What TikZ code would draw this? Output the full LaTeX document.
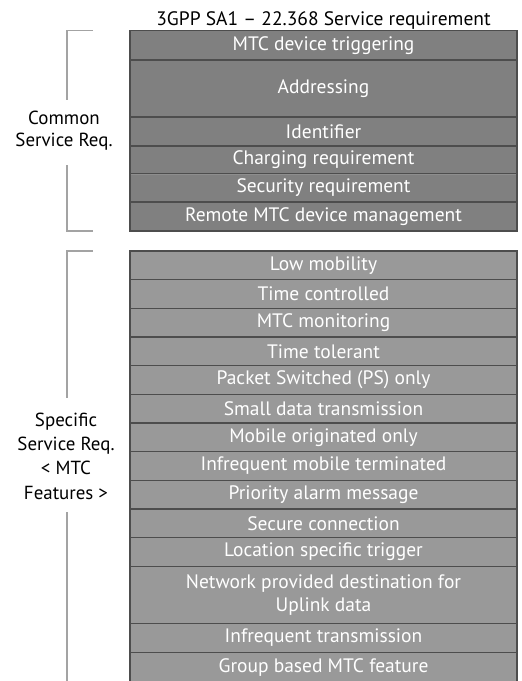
\documentclass[tikz,border=0pt]{standalone}
\usepackage{fontspec}
\setmainfont{PT Sans}
\usetikzlibrary{positioning,calc}
\definecolor{darkcell}{HTML}{808080}
\definecolor{lightcell}{HTML}{999999}
\definecolor{celledge}{HTML}{4D4D4D}
\definecolor{softedge}{HTML}{8E8E8E}
\definecolor{brackgray}{HTML}{A3A3A3}

\begin{document}
\begin{tikzpicture}[
    x=0.75pt, y=0.75pt,
    node distance=0pt,
    cell/.style={rectangle, draw=celledge, line width=1.1pt, text=white, minimum width=290.25pt, minimum height=#1, inner sep=0pt, outer sep=0pt, align=center, font=\fontsize{14.6}{17.2}\selectfont},
    cell/.default=21.5pt,
    common/.style={cell=#1, fill=darkcell},
    common/.default=21.5pt,
    specific/.style={cell=#1, fill=lightcell},
    specific/.default=21.5pt,
    side/.style={align=center, inner sep=0pt, font=\fontsize{14.2}{16.8}\selectfont},
    brack/.style={draw=brackgray, line width=1.1pt}
]
\useasboundingbox (0,0) rectangle (521,-681);

% Common service requirements
\node [common=22pt, anchor=north west] (trig) at (130,-30.7) {MTC device triggering};
\node [common=42.75pt, below=of trig] (addr) {Addressing};
\node [common=21.75pt, below=of addr] (ident) {Identifier};
\node [common=21pt, below=of ident] (charge) {Charging requirement};
\node [common=21pt, below=of charge] (secur) {Security requirement};
\node [common=21.75pt, below=of secur] (remote) {Remote MTC device management};
\draw [softedge, line width=0.8pt] ([xshift=0.6pt]charge.south west) -- ([xshift=-0.6pt]charge.south east);

% Title
\node [side, font=\fontsize{14.6}{17}\selectfont, above=1pt of trig] (title) {3GPP SA1 \textendash{} 22.368 Service requirement};

% Specific service requirements
\node [specific, below=15pt of remote] (lowmob) {Low mobility};
\node [specific, below=of lowmob] (timectl) {Time controlled};
\node [specific, below=of timectl] (monitor) {MTC monitoring};
\node [specific, below=of monitor] (timetol) {Time tolerant};
\node [specific, below=of timetol] (psonly) {Packet Switched (PS) only};
\node [specific, below=of psonly] (smalldata) {Small data transmission};
\node [specific, below=of smalldata] (moonly) {Mobile originated only};
\node [specific, below=of moonly] (infmt) {Infrequent mobile terminated};
\node [specific, below=of infmt] (alarm) {Priority alarm message};
\node [specific, below=of alarm] (secconn) {Secure connection};
\node [specific, below=of secconn] (loctrig) {Location specific trigger};
\node [specific=43pt, below=of loctrig] (netdest) {Network provided destination for\\Uplink data};
\node [specific, below=of netdest] (inftx) {Infrequent transmission};
\node [specific=22.5pt, below=of inftx] (group) {Group based MTC feature};

% Side labels
\node [side] (cmnlbl) at ($(trig.north west)!0.5!(remote.south west)+(-66,0)$) {Common\\Service Req.};
\node [side, font=\fontsize{14.2}{18.2}\selectfont] (spclbl) at ($(lowmob.north west)+(-64,-205)$) {Specific\\Service Req.\\< MTC\\Features >};

% Brackets
\coordinate (ctop) at ($(trig.north west)+(-63,0)$);
\coordinate (cbot) at ($(remote.south west)+(-63,0)$);
\draw [brack] ($(ctop)+(26,0)$) -- (ctop) -- ($(ctop |- cmnlbl.center)+(0,31)$);
\draw [brack] ($(cbot)+(26,0)$) -- (cbot) -- ($(cbot |- cmnlbl.center)+(0,-34)$);

\coordinate (stop) at ($(lowmob.north west)+(-63,0)$);
\coordinate (sbot) at ($(group.south west)+(-63,0)$);
\draw [brack] ($(stop)+(26,0)$) -- (stop) -- ($(stop |- spclbl.center)+(0,58)$);
\draw [brack] (sbot) -- ($(sbot |- spclbl.center)+(0,-56)$);

\end{tikzpicture}
\end{document}
